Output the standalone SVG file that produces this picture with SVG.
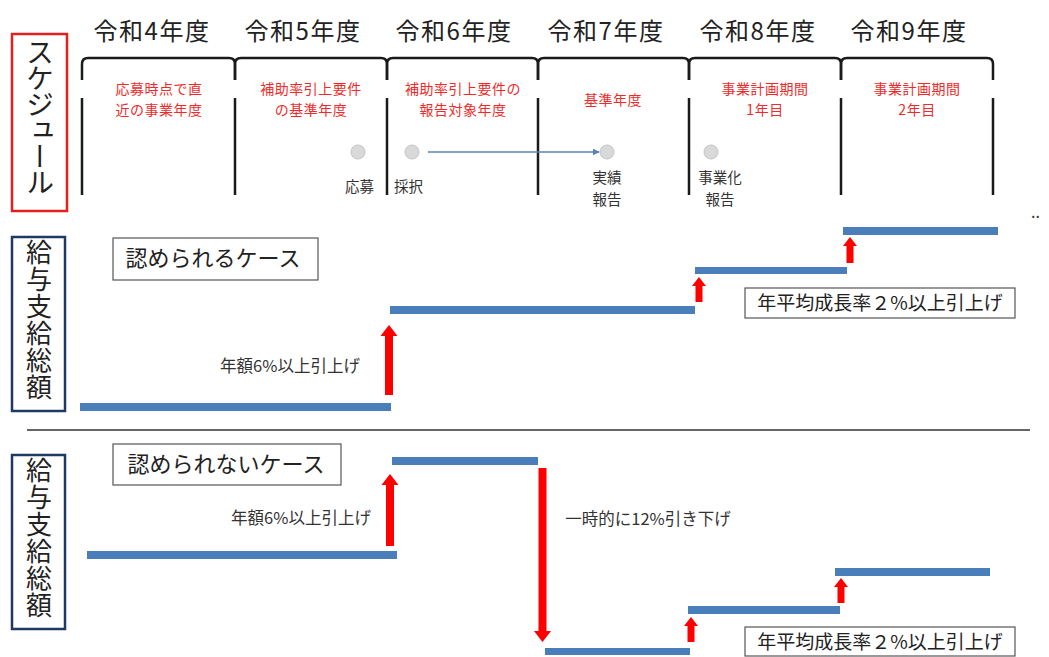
<svg xmlns="http://www.w3.org/2000/svg" width="1049" height="657" viewBox="0 0 1049 657">
<style>
text{font-family:"Noto Sans CJK JP","Noto Sans",sans-serif;}
.yr{font-size:24px;fill:#222;text-anchor:middle;letter-spacing:1.5px;}
.rd{font-size:14px;fill:#f02a2a;text-anchor:middle;letter-spacing:0.5px;}
.sm{font-size:14.5px;fill:#333;}
.vt{writing-mode:vertical-rl;fill:#222;}
.bar{fill:#4a7ebb;}
.arr{fill:#f00;}
.brk{fill:none;stroke:#1a1a1a;stroke-width:2.5;}
.lbl{fill:#fff;stroke:#555;stroke-width:1.2;}
.lt{font-size:22px;fill:#222;text-anchor:middle;}
.gt{font-size:19px;fill:#222;text-anchor:middle;}
.note{font-size:16.5px;fill:#333;text-anchor:middle;}
.dot{fill:#d9d9d9;stroke:#c4c4c4;stroke-width:1;}
</style>
<defs>
<marker id="ah" viewBox="0 0 10 10" refX="9" refY="5" markerWidth="7" markerHeight="7" orient="auto" markerUnits="userSpaceOnUse"><path d="M0,0 L10,5 L0,10 Z" fill="#5b82b8"/></marker>
</defs>
<rect width="1049" height="657" fill="#fff"/>

<g id="schedule-label">
<rect x="12" y="34" width="55" height="177" fill="none" stroke="#e3201f" stroke-width="2.5"/>
<text class="vt" x="40" y="38" font-size="28" letter-spacing="-2">スケジュール</text>
</g>

<g id="years">
<text class="yr" x="152" y="40">令和4年度</text>
<text class="yr" x="303" y="40">令和5年度</text>
<text class="yr" x="454" y="40">令和6年度</text>
<text class="yr" x="606" y="40">令和7年度</text>
<text class="yr" x="758" y="40">令和8年度</text>
<text class="yr" x="909" y="40">令和9年度</text>
</g>

<g id="brackets">
<path class="brk" d="M82,80 V64 Q82,58 88,58 H229 Q235,58 235,64 V80"/>
<path class="brk" d="M235,80 V64 Q235,58 241,58 H381 Q387,58 387,64 V80"/>
<path class="brk" d="M387,80 V64 Q387,58 393,58 H532 Q538,58 538,64 V80"/>
<path class="brk" d="M538,80 V64 Q538,58 544,58 H683 Q689,58 689,64 V80"/>
<path class="brk" d="M689,80 V64 Q689,58 695,58 H835 Q841,58 841,64 V80"/>
<path class="brk" d="M841,80 V64 Q841,58 847,58 H987 Q993,58 993,64 V80"/>
<path class="brk" d="M82,98 V195 M235,98 V195 M387,98 V195 M538,98 V195 M689,98 V195 M841,98 V195 M993,98 V195"/>
</g>

<g id="year-notes">
<text class="rd" x="159" y="94">応募時点で直<tspan x="159" dy="20.5">近の事業年度</tspan></text>
<text class="rd" x="311" y="94">補助率引上要件<tspan x="311" dy="20.5">の基準年度</tspan></text>
<text class="rd" x="463" y="94">補助率引上要件の<tspan x="463" dy="20.5">報告対象年度</tspan></text>
<text class="rd" x="613" y="105">基準年度</text>
<text class="rd" x="765" y="94">事業計画期間<tspan x="765" dy="20.5">1年目</tspan></text>
<text class="rd" x="917" y="94">事業計画期間<tspan x="917" dy="20.5">2年目</tspan></text>
</g>

<g id="events">
<circle class="dot" cx="358" cy="152" r="7"/>
<circle class="dot" cx="412" cy="152" r="7"/>
<circle class="dot" cx="607" cy="152" r="7"/>
<circle class="dot" cx="711" cy="152" r="7"/>
<text class="sm" x="374" y="192" text-anchor="end">応募</text>
<text class="sm" x="394" y="192">採択</text>
<text class="sm" x="607" y="183" text-anchor="middle">実績<tspan x="607" dy="21.5">報告</tspan></text>
<text class="sm" x="720" y="183" text-anchor="middle">事業化<tspan x="720" dy="21.5">報告</tspan></text>
<text x="1031" y="218" font-size="16" fill="#333">..</text>
</g>

<g id="connectors">
<line x1="428" y1="152" x2="599" y2="152" stroke="#5b82b8" stroke-width="1.5" marker-end="url(#ah)"/>
</g>

<g id="salary-label-1">
<rect x="12" y="237" width="53" height="174" fill="none" stroke="#1f3864" stroke-width="2.5"/>
<text class="vt" x="39" y="239" font-size="26" letter-spacing="1">給与支給総額</text>
</g>
<g id="case-ok">
<rect class="lbl" x="113" y="238" width="205" height="42"/>
<text class="lt" x="213" y="266">認められるケース</text>
</g>
<g id="steps-ok">
<rect class="bar" x="80" y="403" width="311" height="8"/>
<rect class="bar" x="390" y="306" width="305" height="8"/>
<rect class="bar" x="695" y="267" width="152" height="7"/>
<rect class="bar" x="843" y="227" width="155" height="8"/>
<path class="arr" d="M385,395 V336 H380.5 L389,325 L397.5,336 H393 V395 Z"/>
<path class="arr" d="M695.5,302 V286 H692 L699,277 L706,286 H702.5 V302 Z"/>
<path class="arr" d="M846.5,263 V246 H843 L850,237 L857,246 H853.5 V263 Z"/>
<text class="note" x="290" y="372">年額6%以上引上げ</text>
<rect class="lbl" x="745" y="288" width="270" height="30"/>
<text class="gt" x="880" y="310">年平均成長率２%以上引上げ</text>
</g>

<line x1="27" y1="430" x2="1030" y2="430" stroke="#333" stroke-width="1.5"/>

<g id="salary-label-2">
<rect x="12" y="455" width="53" height="174" fill="none" stroke="#1f3864" stroke-width="2.5"/>
<text class="vt" x="39" y="457" font-size="26" letter-spacing="1">給与支給総額</text>
</g>
<g id="case-ng">
<rect class="lbl" x="113" y="444" width="228" height="41"/>
<text class="lt" x="226" y="472">認められないケース</text>
</g>
<g id="steps-ng">
<rect class="bar" x="87" y="551" width="310" height="8"/>
<rect class="bar" x="392" y="457" width="146" height="8"/>
<rect class="bar" x="545" y="648" width="145" height="7"/>
<rect class="bar" x="688" y="606" width="152" height="8"/>
<rect class="bar" x="835" y="568" width="155" height="8"/>
<path class="arr" d="M386,546 V485 H381.5 L390,474 L398.5,485 H394 V546 Z"/>
<path class="arr" d="M538.5,468 V631 H534 L542.5,642 L551,631 H546.5 V468 Z"/>
<path class="arr" d="M687.5,642 V626 H684 L691,617 L698,626 H694.5 V642 Z"/>
<path class="arr" d="M837.5,603 V587 H834 L841,578 L848,587 H844.5 V603 Z"/>
<text class="note" x="301" y="524">年額6%以上引上げ</text>
<text class="note" x="648" y="525">一時的に12%引き下げ</text>
<rect class="lbl" x="745" y="627" width="270" height="29"/>
<text class="gt" x="880" y="649">年平均成長率２%以上引上げ</text>
</g>
</svg>
